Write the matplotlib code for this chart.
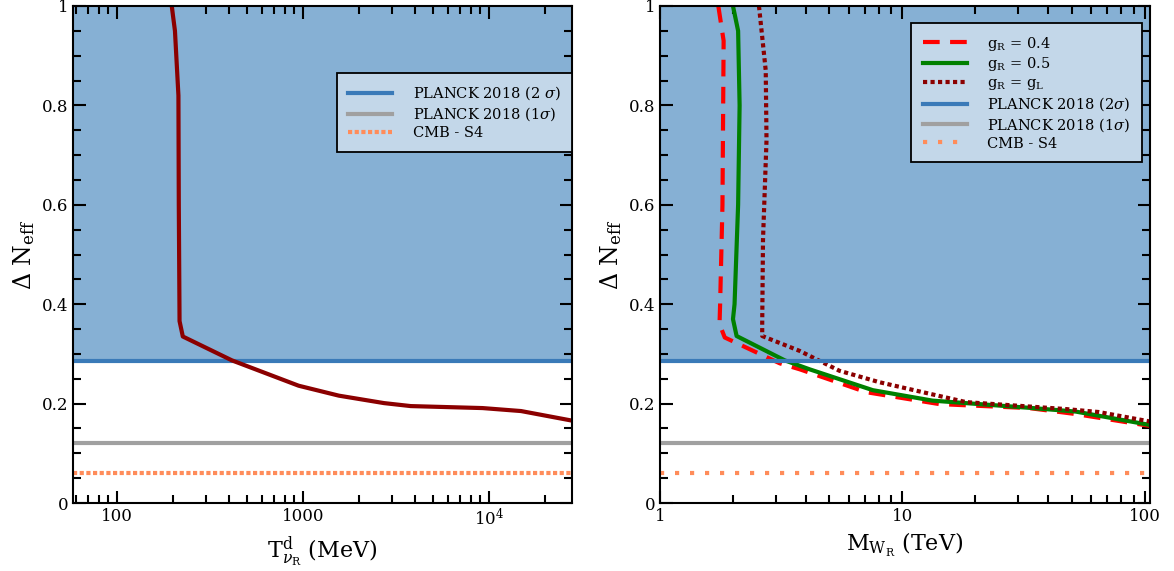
import numpy as np
import matplotlib
matplotlib.use("Agg")
import matplotlib.pyplot as plt
from matplotlib.ticker import MultipleLocator, FixedLocator, FixedFormatter, LogLocator, NullFormatter

plt.rcParams['font.family'] = ['DejaVu Serif']
plt.rcParams['mathtext.fontset'] = 'dejavuserif'

# Planck / CMB-S4 bounds
planck_2s = 0.285
planck_1s = 0.12
cmb_s4 = 0.06

# left panel: decoupling temperature (MeV) vs Delta N_eff
T_dec = [197, 205, 214, 215, 217, 226, 415, 948, 1560, 2730, 3800, 9250, 14900, 28700]
dN_T = [1.0, 0.95, 0.82, 0.6, 0.366, 0.335, 0.287, 0.236, 0.216, 0.201, 0.195, 0.191, 0.185, 0.165]

# right panel: M_WR (TeV) vs Delta N_eff
m_04 = [1.74, 1.83, 1.81, 1.77, 1.76, 1.85, 3.12, 3.77, 7.09, 14.2, 33.3, 51.8, 105]
dN_04 = [1.0, 0.93, 0.6, 0.4, 0.36, 0.333, 0.281, 0.269, 0.223, 0.199, 0.191, 0.179, 0.155]

m_05 = [2.0, 2.1, 2.13, 2.1, 2.03, 2.0, 2.07, 3.27, 4.14, 7.55, 13.3, 34.4, 51.8, 105]
dN_05 = [1.0, 0.95, 0.8, 0.6, 0.4, 0.37, 0.336, 0.287, 0.269, 0.227, 0.206, 0.191, 0.184, 0.157]

m_gl = [2.56, 2.73, 2.75, 2.66, 2.64, 2.64, 3.77, 5.5, 8.04, 18.3, 47.2, 64.6, 105]
dN_gl = [1.0, 0.87, 0.73, 0.53, 0.36, 0.336, 0.306, 0.266, 0.243, 0.203, 0.189, 0.183, 0.164]

fill_c = '#86b0d4'
blue_c = '#3a7ab8'
gray_c = '#a0a0a0'
orng_c = '#ff8c5a'
leg_c = '#c3d7e9'

fig = plt.figure(figsize=(11.74, 5.71), dpi=100)
ax1 = fig.add_axes([73/1174, 68/571, 499/1174, 497/571])
ax2 = fig.add_axes([660/1174, 68/571, 490/1174, 497/571])

def style(ax):
    ax.set_xscale('log')
    ax.set_ylim(0, 1)
    ax.set_yticks([0, 0.2, 0.4, 0.6, 0.8, 1.0])
    ax.set_yticklabels(['0', '0.2', '0.4', '0.6', '0.8', '1'])
    ax.yaxis.set_minor_locator(MultipleLocator(0.05))
    ax.tick_params(which='both', direction='in', top=True, right=True, labelsize=12, width=1.5)
    ax.tick_params(which='major', length=9)
    ax.tick_params(which='minor', length=6)
    ax.xaxis.set_minor_locator(LogLocator(base=10, subs=np.arange(2, 10)))
    ax.xaxis.set_minor_formatter(NullFormatter())
    for s in ax.spines.values():
        s.set_linewidth(1.5)
    ax.axhspan(planck_2s, 1, color=fill_c, lw=0, zorder=0)
    ax.set_ylabel(r'$\Delta$ N$_{\rm eff}$', fontsize=17, labelpad=3)

def legend(ax, anchor):
    leg = ax.legend(loc='upper right', bbox_to_anchor=anchor, fontsize=10.5, frameon=True,
                    fancybox=False, edgecolor='black', facecolor=leg_c, framealpha=1,
                    handlelength=3.0, handletextpad=1.4, borderpad=0.8, labelspacing=0.2,
                    borderaxespad=0)
    leg.get_frame().set_linewidth(1.3)

# left
style(ax1)
ax1.set_xlim(58, 28000)
ax1.xaxis.set_major_locator(FixedLocator([100, 1000, 10000]))
ax1.xaxis.set_major_formatter(FixedFormatter(['100', '1000', r'10$^4$']))
ax1.axhline(planck_2s, color=blue_c, lw=3, label=r'PLANCK 2018 (2 $\sigma$)')
ax1.axhline(planck_1s, color=gray_c, lw=3, label=r'PLANCK 2018 (1$\sigma$)')
ax1.axhline(cmb_s4, color=orng_c, lw=3, ls=(0, (1, 0.6)), label='CMB - S4')
ax1.plot(T_dec, dN_T, color='#8b0000', lw=3)
ax1.set_xlabel(r'T$^{\rm d}_{\nu_{\rm R}}$ (MeV)', fontsize=16)
legend(ax1, (1.0, 0.865))

# right
style(ax2)
ax2.set_xlim(1, 105)
ax2.xaxis.set_major_locator(FixedLocator([1, 10, 100]))
ax2.xaxis.set_major_formatter(FixedFormatter(['1', '10', '100']))
ax2.plot(m_04, dN_04, color='#ff0000', lw=3, ls=(0, (4, 2.5)), label=r'g$_{\rm R}$ = 0.4')
ax2.plot(m_05, dN_05, color='#008000', lw=3, label=r'g$_{\rm R}$ = 0.5')
ax2.plot(m_gl, dN_gl, color='#8b0000', lw=3, ls=(0, (1, 0.8)), label=r'g$_{\rm R}$ = g$_{\rm L}$')
ax2.axhline(planck_2s, color=blue_c, lw=3, label=r'PLANCK 2018 (2$\sigma$)')
ax2.axhline(planck_1s, color=gray_c, lw=3, label=r'PLANCK 2018 (1$\sigma$)')
ax2.axhline(cmb_s4, color=orng_c, lw=3, ls=(0, (1, 2.6)), label='CMB - S4')
ax2.set_xlabel(r'M$_{\rm W_R}$ (TeV)', fontsize=16)
legend(ax2, (0.984, 0.966))

fig.savefig('out.png', dpi=100)
